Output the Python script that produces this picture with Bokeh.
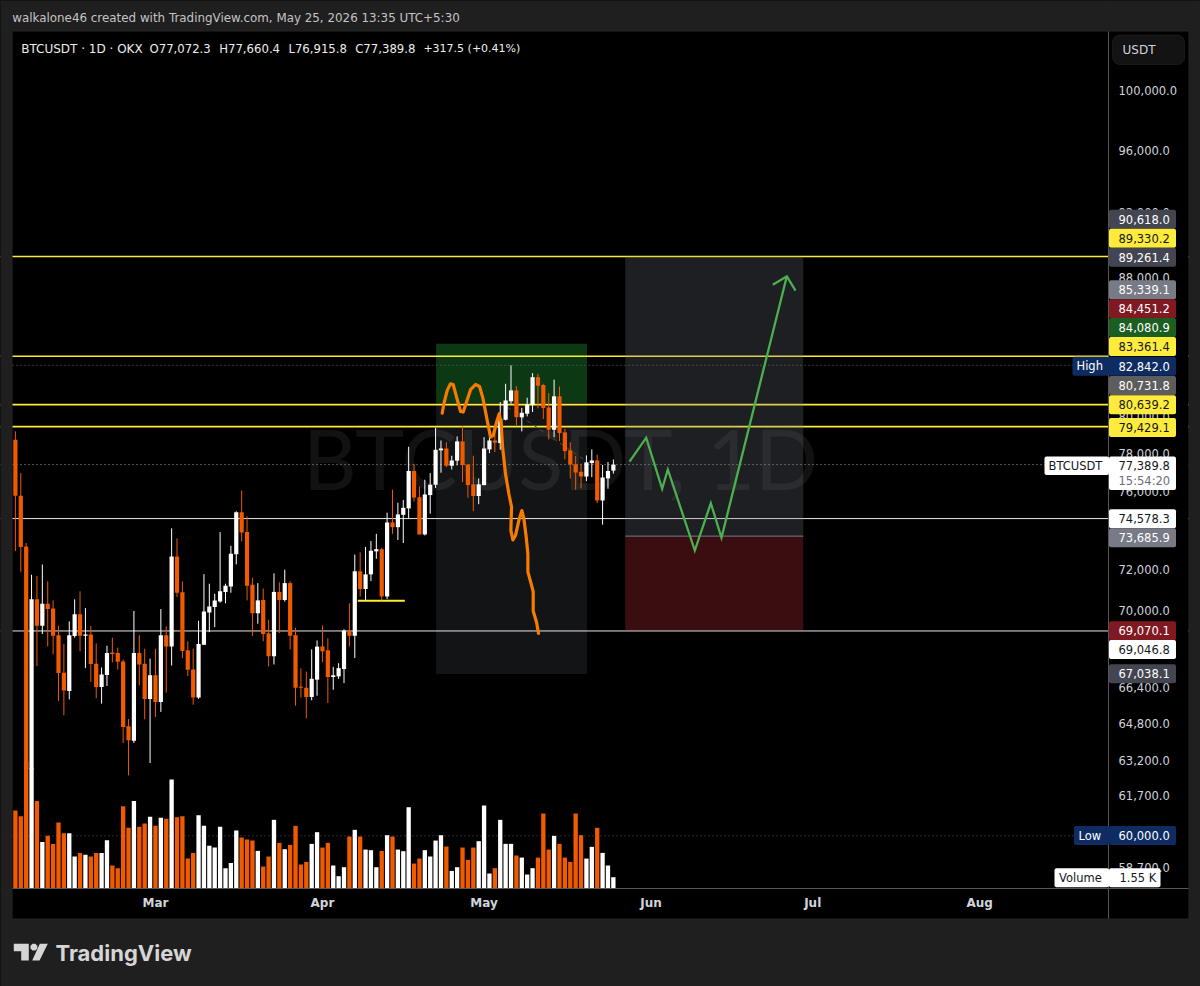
from bokeh.embed import file_html
from bokeh.resources import INLINE
from bokeh.plotting import figure
from bokeh.models import (BoxAnnotation, ColumnDataSource, FixedTicker, GlobalInlineStyleSheet,
                          Label, LinearScale, NumeralTickFormatter, PolyAnnotation, Range1d, Span)

symbol_parts = ["BTCUSDT · 1D · OKX", "O77,072.3", "H77,660.4", "L76,915.8", "C77,389.8", "+317.5 (+0.41%)"]
credit = "walkalone46 created with TradingView.com, May 25, 2026 13:35 UTC+5:30"
watermark = "BTCUSDT, 1D"

opens = [78720,75750,73170,62800,70560,69300,70350,70120,68840,67100,66260,68810,69840,68820,68880,67510,66440,66990,68030,68010,
         67620,64680,64040,68010,67510,65900,66980,65760,68840,68320,72670,70900,68140,67250,65970,68400,69930,70190,70460,70920,
         71190,72770,74900,73890,71270,69890,70530,68930,67860,70920,70530,71350,68850,66460,66410,65990,66780,68320,68140,66900,
         66930,67270,69040,68820,71930,71060,71780,72920,73030,70700,74380,74140,74770,75100,77050,75680,73770,75790,76330,78150,
         78250,77330,77600,78630,77380,76350,75740,76310,78200,78680,78540,79810,80830,81430,79940,80140,80610,82170,81730,80480,
         79260,81100,79120,78150,77400,77010,76760,77470,77610,75510,76660,77072.3]
highs = [79170,76940,73340,71760,71700,72270,71440,70510,69300,68430,69500,70560,70950,70140,69280,68460,67340,68350,68730,68260,
         67710,65000,70000,68850,68210,67750,68210,70090,69260,74080,73570,71440,68560,68210,69530,71790,71320,70830,73890,71320,
         73200,74950,76030,74690,71610,71350,71090,69580,71830,71390,72010,71440,69200,67300,67150,68180,68600,69310,68700,67370,
         67540,69130,70370,72760,72870,73140,73440,73800,73100,74880,76070,75390,75540,78340,77430,76240,76590,76940,79370,78680,
         78580,77860,78900,79450,77430,77860,76660,78860,79260,79130,80780,81800,82842,81670,80460,81020,82400,82360,81800,81280,
         82030,81650,79320,78580,77840,77440,77880,78200,77920,77370,77530,77660.4]
lows = [72940,71890,62400,60000,67400,68900,68320,67950,65810,65170,65880,68730,68100,67310,66670,65930,65690,66490,67570,67240,
        63940,62540,63940,66520,64990,63070,65090,65320,66190,67430,70670,67780,66950,65640,65900,68390,68990,69230,70400,70370,
        70880,72270,73420,70510,68810,69390,68560,67390,67480,68950,70450,68180,65600,65960,65030,65840,66050,67590,65720,66320,
        66810,66620,68320,67780,70700,70510,71450,72550,70510,70570,73800,73490,73340,74590,75460,73760,73720,74830,76160,76960,
        77260,77130,77350,76470,75650,74960,75320,76300,78000,78060,78180,79770,80690,79500,79170,79990,80230,80430,79850,78740,
        78860,78650,77670,76660,76070,76140,76520,76730,75370,74270,76120,76915.8]
closes = [75750,73140,62800,70560,69300,70350,70090,68820,67090,66290,68850,69840,68820,68880,67500,66440,67020,68010,67960,67610,
          64650,64060,68010,67480,65900,66980,65760,68850,68320,72670,70880,68100,67240,65970,68430,69970,70220,70510,70950,71220,
          72800,74900,73870,71220,69890,70510,68900,67860,70920,70530,71350,68820,66410,66410,65990,66820,68310,68090,66900,66980,
          67310,69060,68820,71930,71060,71780,72950,73030,70700,74380,74140,74790,75130,77050,75660,73770,75820,76330,78180,78250,
          77330,77610,78630,77370,76310,75740,76350,78250,78680,78560,79850,80870,81430,79950,80190,80630,82170,81690,80450,79260,
          81100,79080,78110,77400,76970,76760,77510,77610,75510,76710,77050,77389.8]
volumes_k = [10.95,10.15,17.9,16.9,12.31,6.53,7.38,6.25,9.26,7.76,7.76,4.47,4.98,4.70,4.47,4.98,4.98,6.77,3.20,2.82,
             11.56,8.51,12.31,8.65,9.12,10.06,8.79,9.92,9.78,15.32,10.01,10.15,4.18,4.98,10.29,8.79,5.97,5.73,8.65,2.82,
             3.57,8.13,7.14,6.86,6.72,5.26,3.06,4.47,9.64,6.39,5.50,6.11,8.79,3.34,3.71,6.25,7.90,5.73,6.39,3.20,
             1.69,2.96,7.29,8.23,7.29,5.45,5.36,2.96,5.26,7.47,7.29,5.45,5.22,11.42,3.48,4.18,5.36,4.47,6.72,7.47,
             5.88,2.44,2.96,5.73,4.00,5.73,6.63,11.66,2.07,2.82,9.64,6.25,6.25,4.61,4.32,1.93,2.82,4.32,10.53,5.45,
             7.38,6.25,4.32,3.71,10.53,7.47,4.18,5.83,8.51,4.98,3.20,1.55]
days = list(range(len(opens)))

month_ticks = [26, 57, 87, 118, 148, 179]
month_labels = ["Mar", "Apr", "May", "Jun", "Jul", "Aug"]
price_ticks = [100000, 96000, 92000, 88000, 84000, 81600, 80000, 78000, 76000, 72000, 70000, 66400, 64800, 63200, 61700, 58700]

yellow_levels = [89261.4, 83361.4, 80639.2, 79429.1]
white_levels = [74578.3, 69046.8]
high_price, low_price, last_price = 82842.0, 60000.0, 77389.8

plan1_days = [78.1, 106.1]
plan1_prices = [84080.9, 80731.8, 67038.1]
plan2_days = [113.2, 146.25]
plan2_prices = [89261.4, 73685.9, 69070.1]

orange_days = [79.23,79.54,80.16,80.77,81.27,81.89,82.64,83.13,83.74,84.49,85.42,86.16,86.78,87.58,88.2,88.7,89.32,89.81,90.18,90.43,
               90.98,91.6,92.1,91.97,92.35,92.84,93.46,94.02,94.39,94.82,95.13,95.13,95.63,96.12,96.12,96.74,97.11]
orange_prices = [80170,80690,81430,81800,81760,81050,80260,80230,80780,81470,81760,81650,81000,79770,78860,78950,79680,80140,79590,78330,
                 76900,75860,75170,73980,73500,73720,74490,74990,74570,73640,72800,71900,71420,70940,70000,69460,68930]
green_days = [114.0, 117.09, 120.06, 121.11, 126.12, 129.09, 131.07, 143.2]
green_prices = [77550, 78830, 76120, 77130, 72963, 75370, 73600, 88060]
arrow_days = [140.6, 143.2, 144.81]
arrow_prices = [87550, 88060, 87200]
short_yellow_days = [63.56, 72.28]
short_yellow_prices = [70490, 70490]
trend_days = [91.3, 105.8]
trend_prices = [80500, 77610]

ORANGE, WHITE = "#F05A00", "#FFFFFF"
BG, PANE, GRID = "#1F1F1F", "#000000", "#565656"
YEL, NAVY, RED, GREEN = "#FFEB3B", "#0F2C62", "#801922", "#1B5E20"
GREY1, GREY2, GREY3 = "#434651", "#787B86", "#5D5D5D"
FONT = "DejaVu Sans"
TICK = "#D1D4DC"

src = ColumnDataSource(dict(
    day=days, o=opens, h=highs, l=lows, c=closes,
    top=[max(a, b) for a, b in zip(opens, closes)],
    bot=[min(a, b) for a, b in zip(opens, closes)],
    vol=volumes_k,
    col=[ORANGE if c < o else WHITE for o, c in zip(opens, closes)],
))

p = figure(width=1200, height=986, output_backend="svg", toolbar_location=None,
           y_axis_type="log", y_axis_location="right",
           x_range=Range1d(-2.766, 219.99), y_range=Range1d(54109, 106387),
           min_border=0)
p.stylesheets.append(GlobalInlineStyleSheet(css="html,body{background:%s;overflow:hidden}" % BG))
p.grid.visible = False
p.outline_line_color = None
p.background_fill_color = PANE
p.border_fill_color = PANE
p.extra_y_ranges = {"vol": Range1d(-13.86, 125.17)}
p.extra_y_scales = {"vol": LinearScale()}

ya = p.yaxis[0]
ya.fixed_location = 202.92
ya.ticker = FixedTicker(ticks=price_ticks)
ya.formatter = NumeralTickFormatter(format="0,0.0")
ya.major_tick_line_color = None
ya.minor_tick_line_color = None
ya.axis_line_color = GRID
ya.major_label_standoff = 4
ya.major_label_text_color = TICK
ya.major_label_text_font = FONT
ya.major_label_text_font_size = "11.5px"

xa = p.xaxis[0]
xa.fixed_location = 57883
xa.ticker = FixedTicker(ticks=month_ticks)
xa.major_label_overrides = dict(zip(month_ticks, month_labels))
xa.major_tick_line_color = None
xa.minor_tick_line_color = None
xa.axis_line_color = GRID
xa.major_label_standoff = 2
xa.major_label_text_color = TICK
xa.major_label_text_font = FONT
xa.major_label_text_font_size = "12px"
xa.major_label_text_font_style = "bold"


def box(x0, y0, x1, y1, fill, line=None, radius=0, level="overlay"):
    b = BoxAnnotation(left=x0, right=x1, top=y0, bottom=y1,
                      left_units="canvas", right_units="canvas", top_units="canvas", bottom_units="canvas",
                      fill_color=fill, fill_alpha=1 if fill else 0, line_color=line, border_radius=radius, level=level,
                      editable=False)
    p.add_layout(b)


def text(x, y, s, color, size="11.5px", align="left", style="normal", font=FONT, level="overlay", alpha=1.0):
    p.add_layout(Label(x=x, y=y, x_units="canvas", y_units="canvas", text=s, text_color=color,
                       text_font=font, text_font_size=size, text_align=align, text_baseline="middle",
                       text_font_style=style, level=level, text_alpha=alpha))


# watermark under everything
text(560, 457.5, watermark, "#FFFFFF", size="83px", align="center", font="Lato", level="image", alpha=0.07)

# plan 1
p.quad(left=[plan1_days[0]], right=[plan1_days[1]], top=[plan1_prices[0]], bottom=[plan1_prices[1]],
       fill_color="#1E8C32", fill_alpha=0.4, line_color=None, level="image")
p.quad(left=[plan1_days[0]], right=[plan1_days[1]], top=[plan1_prices[1]], bottom=[plan1_prices[2]],
       fill_color="#787B86", fill_alpha=0.16, line_color=None, level="image")

for lv in yellow_levels:
    p.add_layout(Span(location=lv, dimension="width", line_color=YEL, line_width=1.6, level="underlay"))
for lv in white_levels:
    p.add_layout(Span(location=lv, dimension="width", line_color="#E6E6E6", line_width=1, level="underlay"))
for lv, col in [(high_price, "#6A6A6A"), (low_price, "#555555"), (last_price, "#A8A8A8")]:
    p.add_layout(Span(location=lv, dimension="width", line_color=col, line_width=1, line_dash=[1, 3], level="underlay"))
# price-scale pane hides the level lines right of the chart
box(1108.5, 31, 1188, 918, PANE, level="underlay")

# plan 2
p.quad(left=[plan2_days[0]], right=[plan2_days[1]], top=[plan2_prices[0]], bottom=[plan2_prices[1]],
       fill_color="#787B86", fill_alpha=0.25, line_color=None, level="glyph")
p.quad(left=[plan2_days[0]], right=[plan2_days[1]], top=[plan2_prices[1]], bottom=[plan2_prices[2]],
       fill_color="#F23645", fill_alpha=0.24, line_color=None, level="glyph")
p.line(plan2_days, [plan2_prices[1]] * 2, line_color="#787B86", line_width=1)

p.line(trend_days, trend_prices, line_color="#4A4A4A", line_width=1, line_dash=[4, 4])
p.line(short_yellow_days, short_yellow_prices, line_color=YEL, line_width=2)

# volume then candles
p.vbar(x="day", width=0.8, top="vol", bottom=0, fill_color="col", line_color=None, source=src, y_range_name="vol")
p.segment(x0="day", x1="day", y0="l", y1="h", line_color="col", line_width=1, source=src)
p.vbar(x="day", width=0.78, top="top", bottom="bot", fill_color="col", line_color=None, source=src)

p.line(orange_days, orange_prices, line_color="#F57C00", line_width=3.2, line_join="round", line_cap="round")
p.line(green_days, green_prices, line_color="#4CAF50", line_width=2.3, line_join="miter")
p.line(arrow_days, arrow_prices, line_color="#4CAF50", line_width=2.3, line_join="miter")

# outer chrome
box(0, 0, 1200, 31, BG)
box(0, 0, 12, 986, BG)
box(0, 918, 1200, 986, BG)
box(1188, 0, 1200, 986, BG)
box(11.5, 30.5, 1188.5, 918.5, None, line="#2E2E2E")

text(11.7, 17, credit, "#C4C4C4", size="11.9px")
part_sizes = ["12px", "11.7px", "11.7px", "11.7px", "11.7px", "11px"]
for x, s, sz in zip([20.7, 149, 218.7, 287.9, 354.7, 422.9], symbol_parts, part_sizes):
    text(x, 48, s, "#EDEDED", size=sz)
box(1112, 34.5, 1184, 64, "#131313", line="#3A3A3A", radius=7)
text(1122, 49, "USDT", TICK, size="12px")

price_boxes = [
    ("90,618.0", 218.7, GREY1, "#FFFFFF"), ("89,330.2", 237.7, YEL, "#131722"), ("89,261.4", 256.7, GREY1, "#FFFFFF"),
    ("85,339.1", 289.3, GREY2, "#FFFFFF"), ("84,451.2", 308.3, RED, "#FFFFFF"), ("84,080.9", 327, GREEN, "#FFFFFF"),
    ("83,361.4", 346, YEL, "#131722"), ("82,842.0", 365.7, NAVY, "#FFFFFF"), ("80,731.8", 385, GREY3, "#FFFFFF"),
    ("80,639.2", 404.3, YEL, "#131722"), ("79,429.1", 427, YEL, "#131722"), ("74,578.3", 518.3, "#FFFFFF", "#131722"),
    ("73,685.9", 537.3, GREY2, "#FFFFFF"), ("69,070.1", 630.3, RED, "#FFFFFF"), ("69,046.8", 649, "#FFFFFF", "#131722"),
    ("67,038.1", 673.3, GREY1, "#FFFFFF"), ("60,000.0", 835, NAVY, "#FFFFFF"),
]
for s, y, bg, fg in price_boxes:
    box(1108.5, y - 9.5, 1175.5, y + 9.5, bg, radius=2)
    text(1118, y, s, fg)

box(1072, 356.2, 1108.5, 375.2, NAVY, radius=2)
text(1076, 365.7, "High", "#FFFFFF")
box(1073.5, 825.5, 1108.5, 844.5, NAVY, radius=2)
text(1078, 835, "Low", "#FFFFFF")
box(1044, 456, 1108.5, 474.5, "#FFFFFF", radius=2)
text(1048, 465, "BTCUSDT", "#131722")
box(1108.5, 456, 1175.5, 489.5, "#FFFFFF", radius=2)
text(1118, 465, "77,389.8", "#131722")
text(1118, 480, "15:54:20", "#6A6D78")
box(1054, 867.7, 1108.5, 886.7, "#FFFFFF", radius=2)
text(1058.5, 877.3, "Volume", "#131722")
box(1108.5, 867.7, 1160, 886.7, "#FFFFFF", radius=2)
text(1119, 877.3, "1.55 K", "#131722")

# logo
logo = "#D6D6D6"
for xs, ys in [([13.3, 28.3, 28.3, 20.7, 20.7, 13.3], [943.3, 943.3, 960, 960, 950.7, 950.7]),
               ([39.3, 47.3, 39, 31.7], [943.3, 943.3, 960, 960]),
               ([30, 32, 34.8, 36.8, 36.8, 34.8, 32, 30], [945.3, 943.3, 943.3, 945.3, 948.1, 950.1, 950.1, 948.1])]:
    p.add_layout(PolyAnnotation(xs=xs, ys=ys, xs_units="canvas", ys_units="canvas",
                                fill_color=logo, fill_alpha=1, line_color=None, level="overlay"))
text(55, 952, "TradingView", logo, size="22px", font="Inter", style="bold")

open("out.html", "w").write(file_html(p, INLINE))
